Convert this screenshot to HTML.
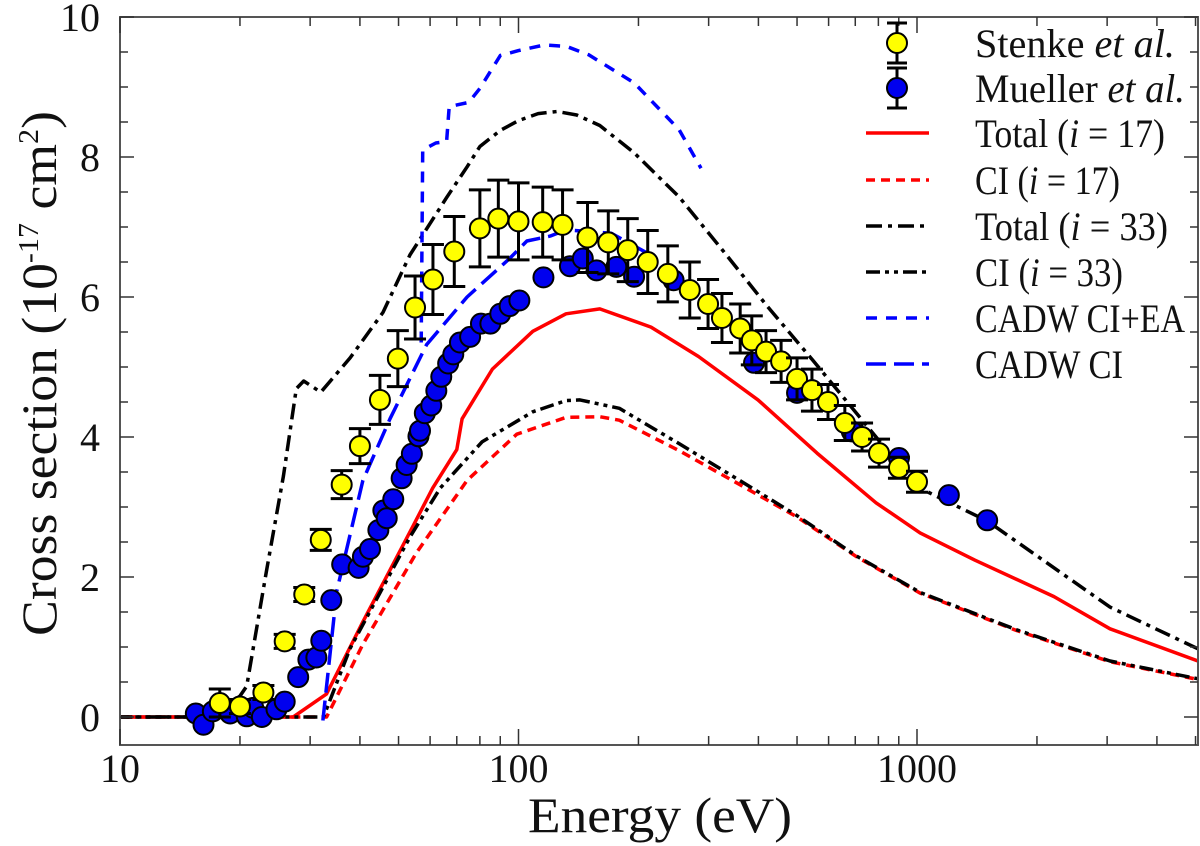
<!DOCTYPE html>
<html><head><meta charset="utf-8"><style>
html,body{margin:0;padding:0;background:#fff;}
svg{display:block;font-family:"Liberation Serif",serif;}
</style></head><body>
<svg id="chart" width="1200" height="846" viewBox="0 0 1200 846" xmlns="http://www.w3.org/2000/svg">
<g id="grid"></g>
<g id="series"></g>
<g id="points"></g>
<g id="axes"></g>
<g id="legend"></g>
</svg>
<script>
const yTicks = [0,2,4,6,8,10];
const xTicks = [10,100,1000];
const xTickLabels = ["10","100","1000"];

const stenkeE = [17.8,20,22.9,25.9,29,31.9,36,40,44.9,49.8,55,61,69,80,89,100,115,129,149,168,188,211,237,269,299,324,360,385,418,456,500,545,598,659,728,803,901,1000];
const stenkeV = [0.2,0.15,0.35,1.08,1.75,2.53,3.32,3.87,4.53,5.12,5.85,6.25,6.65,6.98,7.12,7.08,7.07,7.03,6.85,6.78,6.67,6.5,6.33,6.1,5.9,5.7,5.55,5.38,5.22,5.08,4.83,4.67,4.5,4.2,4.0,3.77,3.56,3.36];
const stenkeErr = [0.2,0.1,0.1,0.1,0.1,0.15,0.2,0.25,0.35,0.4,0.45,0.5,0.5,0.55,0.55,0.55,0.5,0.5,0.5,0.45,0.45,0.45,0.4,0.4,0.35,0.35,0.35,0.35,0.3,0.3,0.3,0.3,0.25,0.25,0.2,0.2,0.15,0.15];

const muellerE = [15.5,16.2,17.1,18.9,20.8,21.6,22.7,24.7,25.9,28,29.7,31.1,32,33.9,36.1,39.7,40.7,42.4,44.5,45.8,46.7,48.5,50.9,52.4,54,56.1,56.6,58.2,60.4,62.2,64,66.6,68.6,71.3,75.6,80.5,85,90,95,100.5,115.5,134.6,145,157,176,195,245,390,500,686,901,1202,1500];
const muellerV = [0.05,-0.11,0.08,0.05,0.01,0.13,0,0.11,0.22,0.57,0.82,0.85,1.09,1.67,2.18,2.13,2.29,2.4,2.67,2.95,2.84,3.11,3.41,3.6,3.76,4.01,4.09,4.34,4.45,4.66,4.86,5.05,5.18,5.35,5.43,5.62,5.62,5.76,5.87,5.95,6.28,6.44,6.55,6.38,6.43,6.29,6.24,5.06,4.63,4.08,3.7,3.17,2.81];

const tot17E = [8,27.2,33,40.7,54.4,60.9,70,72.2,86,108.6,131.6,160,215,283,399,561,789,1018,1398,2207,3050,5130];
const tot17V = [0,0,0.33,1.36,2.73,3.27,3.82,4.26,4.97,5.51,5.76,5.83,5.57,5.15,4.53,3.77,3.06,2.63,2.24,1.72,1.26,0.79];

const ci17E = [8,33,40.7,55.5,74.3,99,131.6,160,179,252,354,499,705,1018,1770,3050,5130];
const ci17V = [0,0,1.04,2.35,3.38,4.04,4.28,4.29,4.24,3.81,3.34,2.86,2.29,1.77,1.24,0.79,0.53];

const tot33E = [8,17,20,20.8,23.3,25.7,27.7,28.9,31.9,37.8,45.7,53.4,66,74.3,80,90,100,112,125,140,160,195,253,325,422,547,1000,1500,3050,5130];
const tot33V = [0,0,0.3,0.44,2.08,3.44,4.69,4.8,4.64,5.13,5.78,6.6,7.42,7.86,8.15,8.38,8.52,8.62,8.65,8.6,8.45,8.06,7.43,6.67,5.86,5.1,3.29,2.8,1.57,0.96];

const ci33E = [8,32.4,37.8,53.4,63.6,81,108.6,131.6,142.6,179,252,354,499,705,1018,1770,3050,5130];
const ci33V = [0,0,0.98,2.57,3.27,3.93,4.36,4.52,4.53,4.41,3.91,3.4,2.88,2.3,1.78,1.25,0.8,0.54];

const cadwEaE = [57,57.5,62,66,67,75,80,90,100,116,132,150,195,253,287];
const cadwEaV = [5.35,8.1,8.2,8.22,8.72,8.78,8.98,9.45,9.52,9.6,9.58,9.46,9.06,8.39,7.84];

const cadwE = [32.3,35,40.7,47.6,58.8,74.3,95,105,120,132,171,210];
const cadwV = [-0.05,1.8,3.38,4.26,5.32,6.0,6.55,6.8,6.87,6.96,6.91,6.63];

const L=120,R=1198,T=17,B=745;
const PX10=398.5;
function xs(e){return L+(Math.log10(e)-1)*PX10;}
function ys(v){return 717-v*70;}
const NS="http://www.w3.org/2000/svg";
function mk(tag,attrs,parent){const el=document.createElementNS(NS,tag);for(const k in attrs)el.setAttribute(k,attrs[k]);parent.appendChild(el);return el;}

const axes=document.getElementById('axes');
const series=document.getElementById('series');
const pts=document.getElementById('points');
const legend=document.getElementById('legend');

const defs=mk('defs',{},document.getElementById('chart'));
const cp=mk('clipPath',{id:'clip'},defs);
mk('rect',{x:L,y:T,width:R-L,height:B-T},cp);
series.setAttribute('clip-path','url(#clip)');

const frame=mk('rect',{x:L,y:T,width:R-L,height:B-T,fill:'none',stroke:'#555',"stroke-width":2},axes);



for(let v=0;v<=10.001;v+=0.5){
  const major=Math.abs(v-Math.round(v/2)*2)<1e-6;
  const len=major?14:8;
  const y=ys(v);
  mk('line',{x1:L,x2:L+len,y1:y,y2:y,stroke:'#333',"stroke-width":1.5},axes);
  mk('line',{x1:R,x2:R-len,y1:y,y2:y,stroke:'#333',"stroke-width":1.5},axes);
}
yTicks.forEach(v=>{
  const t=mk('text',{x:100,y:ys(v)+14,"text-anchor":"end","font-size":40,fill:'#111'},axes);
  t.textContent=String(v);
  
  
});
for(let d=1;d<=3;d++){
  for(let m=1;m<=9;m++){
    const e=m*Math.pow(10,d);
    const x=xs(e);
    if(x>R)continue;
    const len=m===1?16:9;
    mk('line',{x1:x,x2:x,y1:B,y2:B-len,stroke:'#333',"stroke-width":1.5},axes);
    mk('line',{x1:x,x2:x,y1:T,y2:T+len,stroke:'#333',"stroke-width":1.5},axes);
  }
}
xTicks.forEach((e,i)=>{
  const t=mk('text',{x:xs(e),y:782,"text-anchor":"middle","font-size":40,fill:'#111'},axes);
  t.textContent=xTickLabels[i];
  
  
});
const xt=mk('text',{x:528,y:832,"font-size":50,fill:'#111',textLength:264,lengthAdjust:'spacingAndGlyphs'},axes);
xt.textContent='Energy (eV)';


const yt=mk('text',{x:0,y:0,"font-size":50,fill:'#111',textLength:525,lengthAdjust:'spacingAndGlyphs',transform:'translate(56,636) rotate(-90)'},axes);
yt.innerHTML='Cross section (10<tspan dy="-18" font-size="28">-17</tspan><tspan dy="18"> cm</tspan><tspan dy="-18" font-size="28">2</tspan><tspan dy="18">)</tspan>';



function line(E,V,color,dash,name,w){
  const d=E.map((e,i)=>(i?'L':'M')+xs(e).toFixed(1)+','+ys(V[i]).toFixed(1)).join(' ');
  const p=mk('path',{d:d,fill:'none',stroke:color,"stroke-width":w||3.5,"stroke-dasharray":dash||'none',"stroke-linejoin":"round"},series);
  
  
}
line(tot17E,tot17V,'#f00','', 'total-i17-line');
line(ci17E,ci17V,'#f00','9 6','ci-i17-line');
line(tot33E,tot33V,'#000','16 6 4 6','total-i33-line');
line(ci33E,ci33V,'#000','14 5 4 5 4 5','ci-i33-line');
line(cadwEaE,cadwEaV,'#00f','11 9','cadw-ci-ea-line');
line(cadwE,cadwV,'#00f','20 8','cadw-ci-line');

muellerE.forEach((e,i)=>{
  const c=mk('circle',{cx:xs(e),cy:ys(muellerV[i]),r:10,fill:'#0000ee',stroke:'#000',"stroke-width":2},pts);
  
  
});
stenkeE.forEach((e,i)=>{
  const x=xs(e),y1=ys(stenkeV[i]+stenkeErr[i]),y2=ys(stenkeV[i]-stenkeErr[i]);
  const g=mk('g',{},pts);
  
  
  mk('line',{x1:x,x2:x,y1:y1,y2:y2,stroke:'#000',"stroke-width":3},g);
  mk('line',{x1:x-11,x2:x+11,y1:y1,y2:y1,stroke:'#000',"stroke-width":3},g);
  mk('line',{x1:x-11,x2:x+11,y1:y2,y2:y2,stroke:'#000',"stroke-width":3},g);
  const c=mk('circle',{cx:x,cy:ys(stenkeV[i]),r:10,fill:'#ffff00',stroke:'#000',"stroke-width":2},g);
  
  
});

const legItems=[
 {y:43,type:'pt',fill:'#ffff00',w:200,label:'Stenke <tspan font-style="italic">et al.</tspan>',name:'legend-stenke'},
 {y:88,type:'pt',fill:'#0000ee',w:210,label:'Mueller <tspan font-style="italic">et al.</tspan>',name:'legend-mueller'},
 {y:133,type:'ln',c:'#f00',dash:'',w:190,label:'Total (<tspan font-style="italic">i</tspan> = 17)',name:'legend-total-i17'},
 {y:180,type:'ln',c:'#f00',dash:'9 6',w:145,label:'CI (<tspan font-style="italic">i</tspan> = 17)',name:'legend-ci-i17'},
 {y:226,type:'ln',c:'#000',dash:'16 6 4 6',w:193,label:'Total (<tspan font-style="italic">i</tspan> = 33)',name:'legend-total-i33'},
 {y:272,type:'ln',c:'#000',dash:'14 5 4 5 4 5',w:148,label:'CI (<tspan font-style="italic">i</tspan> = 33)',name:'legend-ci-i33'},
 {y:318,type:'ln',c:'#00f',dash:'11 9',w:210,label:'CADW CI+EA',name:'legend-cadw-ci-ea'},
 {y:364,type:'ln',c:'#00f',dash:'20 8',w:148,label:'CADW CI',name:'legend-cadw-ci'}
];
legItems.forEach(it=>{
  const g=mk('g',{},legend);
  
  
  if(it.type==='pt'){
    mk('line',{x1:897,x2:897,y1:it.y-20,y2:it.y+20,stroke:'#000',"stroke-width":3},g);
    mk('line',{x1:887,x2:907,y1:it.y-20,y2:it.y-20,stroke:'#000',"stroke-width":3},g);
    mk('line',{x1:887,x2:907,y1:it.y+20,y2:it.y+20,stroke:'#000',"stroke-width":3},g);
    mk('circle',{cx:897,cy:it.y,r:10,fill:it.fill,stroke:'#000',"stroke-width":2},g);
  } else {
    mk('line',{x1:866,x2:929,y1:it.y,y2:it.y,stroke:it.c,"stroke-width":3.5,"stroke-dasharray":it.dash||'none'},g);
  }
  const t=mk('text',{x:975,y:it.y+14,"font-size":40,fill:'#111',textLength:it.w,lengthAdjust:'spacingAndGlyphs'},g);
  t.innerHTML=it.label;
});
</script>
</body></html>
